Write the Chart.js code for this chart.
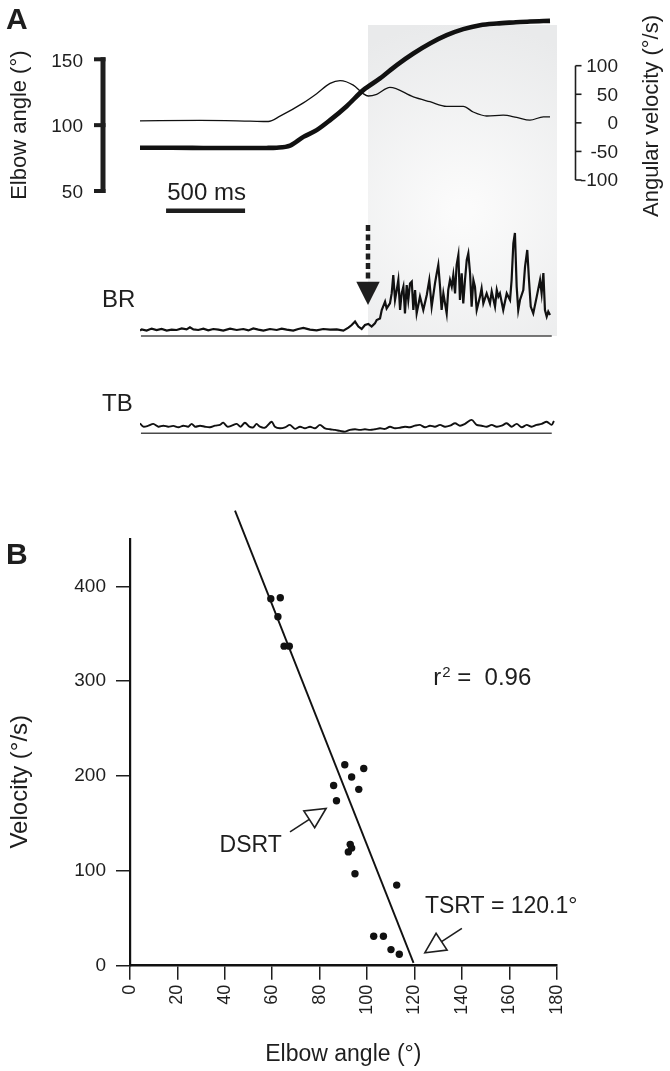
<!DOCTYPE html>
<html><head><meta charset="utf-8">
<script src="https://cdn.jsdelivr.net/npm/chart.js@4.4.1/dist/chart.umd.min.js"></script>
<style>
html,body{margin:0;padding:0;background:#fff;}
#wrap{position:relative;width:670px;height:1071px;overflow:hidden;background:#fff;}
#cA{position:absolute;left:0;top:0;}
#cB{position:absolute;left:0;top:470px;}
</style></head><body>
<div id="wrap">
<canvas id="cA" width="670" height="470"></canvas>
<canvas id="cB" width="670" height="601"></canvas>
</div>
<script>
// ---------------- DATA (panel A) ----------------
const angleTimeMs = [0,200,400,600,800,865,950,1034,1118,1203,1308,1413,1519,1625,1730,1835,1941,2046,2152,2258,2363,2468,2595];
const angleDeg    = [82.8,82.8,82.7,82.6,82.7,82.9,84.5,91.1,96.2,103.8,114.4,126.6,135.5,145.6,154.4,162.0,168.3,172.9,175.9,177.2,178.0,178.7,179.2];

const velTimeMs = [0,380,696,812,886,1034,1118,1203,1266,1350,1413,1445,1498,1582,1730,1835,1941,2046,2109,2194,2299,2384,2468,2553,2595];
const velDegS   = [3.5,4.2,3.0,2.4,11.7,35,51,69,74,66,51,47,50,62,45.5,37,29,29,19,12,13.5,9.4,4.7,10.5,10.5];

const brTimeMs = [0,11,42,74,105,137,169,200,232,264,295,316,338,369,401,432,464,496,527,570,612,654,686,717,749,781,823,865,897,928,970,1002,1034,1076,1118,1160,1203,1245,1287,1319,1340,1361,1382,1403,1424,1445,1466,1487,
 1498,1519,1530,1551,1561,1582,1593,1603,1614,1625,1635,1646,1656,1667,1677,1688,1698,1709,1720,1730,1741,1751,1772,1793,1815,1831,1846,1867,1878,1888,1899,1909,1920,1941,1951,1962,1973,1983,1994,2004,2015,2025,2036,2046,2057,2068,2078,2089,2099,2110,2120,2131,2152,2162,2173,2194,2215,2226,2247,2258,2268,2278,2299,2321,2342,2352,2363,2373,2384,2394,2405,2426,2437,2451,2462,2473,2489,2511,2532,2542,2553,2563,2574,2584,2595];
const brUv = [27,33,27,37,30,35,27,32,30,38,33,43,33,30,37,28,35,32,27,37,30,35,28,38,32,27,35,30,37,32,27,35,40,32,28,35,32,33,27,42,55,72,47,35,55,60,47,63,
 80,88,130,172,138,163,213,305,180,230,280,130,213,247,113,255,180,263,272,130,230,113,197,130,205,280,147,263,313,355,247,130,213,113,230,280,247,305,213,355,405,180,313,163,280,380,413,313,147,280,247,130,197,238,163,213,163,222,147,230,197,213,130,213,180,280,463,515,247,130,180,230,347,430,280,147,113,197,280,213,315,130,97,122,105];

const tbTimeMs = [0,21,53,84,116,148,179,211,243,274,306,327,348,380,411,443,475,506,527,553,580,612,637,664,692,717,738,759,791,833,854,886,918,949,981,1013,1044,1076,1108,1139,1171,1203,1234,1266,1297,1329,1361,1392,1424,1456,1487,1519,1551,1582,1614,1646,1677,1709,1740,1772,1804,1835,1867,1899,1930,1962,1994,2025,2057,2099,2131,2162,2194,2226,2257,2289,2321,2352,2384,2416,2447,2479,2510,2542,2574,2605,2620];
const tbUv = [50,33,38,47,33,38,33,37,30,38,33,47,33,38,33,30,38,42,53,33,38,47,33,53,33,30,47,33,28,58,33,25,30,42,22,33,25,33,25,42,25,20,17,12,8,17,20,17,20,17,20,25,22,33,25,28,33,30,38,42,30,38,33,42,33,38,50,38,47,67,42,38,33,42,33,38,50,33,47,30,42,33,42,47,58,42,62];

const onsetMs = 1443;            // start of shaded region / arrow
const scaleBarMs = [165, 665];   // 500 ms bar
const angleTicks = [150, 100, 50];
const velTicks = [100, 50, 0, -50, -100];

// ---------------- DATA (panel B) ----------------
const scatterAngle = [59.4,63.4,62.4,65.0,67.2,90.6,98.6,93.5,85.9,96.5,87.1,92.9,92.1,93.5,94.9,112.5,102.8,106.9,110.1,113.6];
const scatterVel   = [387,388,368,337,337,212,208,199,190,186,174,128,120,124,97,85,31,31,17,12];
const fitAngle = [44.3, 119.6];
const fitVel   = [480, 3];
const xTickStep = 20, yTickStep = 100;

// ---------------- STYLE / LAYOUT ----------------
const FONT = '"Liberation Sans", Arial, Helvetica, sans-serif';
const INK = '#1e1e1e';
Chart.defaults.font.family = FONT;
Chart.defaults.color = INK;

// panel A calibration (page px)
const A = {left:140, right:556, top:0, bottom:470, pxPerMs:79/500};
function rangeFor(v1,p1,v2,p2){ const k=(p2-p1)/(v2-v1); return {min:v1+(A.bottom-p1)/k, max:v1+(A.top-p1)/k}; }
const angR = rangeFor(150,59.3,50,191);
const velR = rangeFor(100,65.7,-100,180);
const brR  = rangeFor(0,336,500,236);
const tbR  = rangeFor(0,433.3,500,333.3);
const xMaxMs = (A.right-A.left)/A.pxPerMs;

function pts(xs,ys){ return xs.map((x,i)=>({x:x,y:ys[i]})); }

function hollowArrow(ctx,tx,ty,hx,hy,headLen,headHalf){
  const ang=Math.atan2(hy-ty,hx-tx);
  const bx=hx-headLen*Math.cos(ang), by=hy-headLen*Math.sin(ang);
  ctx.beginPath(); ctx.moveTo(tx,ty); ctx.lineTo(bx,by); ctx.stroke();
  const px=-Math.sin(ang)*headHalf, py=Math.cos(ang)*headHalf;
  ctx.beginPath(); ctx.moveTo(hx,hy); ctx.lineTo(bx+px,by+py); ctx.lineTo(bx-px,by-py); ctx.closePath();
  ctx.fillStyle='#fff'; ctx.fill(); ctx.stroke();
}

const decoA = {
  id:'decoA',
  beforeDatasetsDraw(chart){
    const ctx=chart.ctx, xs=chart.scales.x, yb=chart.scales.yBR;
    const x0=xs.getPixelForValue(onsetMs), x1=chart.chartArea.right+1;
    const y0=25, y1=yb.getPixelForValue(0);
    const cx=(x0+x1)/2, cy=(y0+y1)/2+30;
    const g=ctx.createRadialGradient(cx,cy,10,cx,cy,190);
    g.addColorStop(0,'#fbfbfb'); g.addColorStop(1,'#e9eaeb');
    ctx.save(); ctx.fillStyle=g; ctx.fillRect(x0,y0,x1-x0,y1-y0); ctx.restore();
  },
  afterDatasetsDraw(chart){
    const ctx=chart.ctx, xs=chart.scales.x, ya=chart.scales.yAng, yv=chart.scales.yVel, yb=chart.scales.yBR, yt=chart.scales.yTB;
    ctx.save();
    ctx.fillStyle=INK; ctx.strokeStyle=INK;
    // panel letter
    ctx.font='bold 30px '+FONT; ctx.textAlign='left'; ctx.textBaseline='alphabetic';
    ctx.fillText('A',6,29);
    // elbow angle bracket
    const bx=103;
    ctx.lineWidth=5; ctx.lineCap='butt';
    ctx.beginPath(); ctx.moveTo(bx,ya.getPixelForValue(150)-2); ctx.lineTo(bx,ya.getPixelForValue(50)+2); ctx.stroke();
    ctx.lineWidth=4;
    ctx.font='19px '+FONT; ctx.textAlign='right'; ctx.textBaseline='middle';
    angleTicks.forEach(v=>{ const y=ya.getPixelForValue(v);
      ctx.beginPath(); ctx.moveTo(bx+2.5,y); ctx.lineTo(bx-9,y); ctx.stroke();
      ctx.fillText(String(v),83,y+2); });
    ctx.save(); ctx.translate(20,ya.getPixelForValue(100)); ctx.rotate(-Math.PI/2);
    ctx.textAlign='center'; ctx.textBaseline='middle'; ctx.font='22px '+FONT;
    ctx.fillText('Elbow angle (°)',0,0); ctx.restore();
    // angular velocity bracket
    const vx=575.5;
    ctx.lineWidth=1.6;
    ctx.beginPath(); ctx.moveTo(vx,yv.getPixelForValue(100)); ctx.lineTo(vx,yv.getPixelForValue(-100)); ctx.stroke();
    ctx.font='19px '+FONT; ctx.textAlign='right'; ctx.textBaseline='middle';
    velTicks.forEach(v=>{ const y=yv.getPixelForValue(v);
      ctx.beginPath(); ctx.moveTo(vx,y); ctx.lineTo(vx+6,y); ctx.stroke();
      ctx.fillText(String(v),618,y+1); });
    ctx.save(); ctx.translate(652,116); ctx.rotate(-Math.PI/2);
    ctx.textAlign='center'; ctx.textBaseline='middle'; ctx.font='22px '+FONT;
    ctx.fillText('Angular velocity (°/s)',0,0); ctx.restore();
    // 500 ms scale bar
    const sx0=xs.getPixelForValue(scaleBarMs[0]), sx1=xs.getPixelForValue(scaleBarMs[1]);
    ctx.lineWidth=4.5;
    ctx.beginPath(); ctx.moveTo(sx0,210.7); ctx.lineTo(sx1,210.7); ctx.stroke();
    ctx.font='24px '+FONT; ctx.textAlign='center'; ctx.textBaseline='middle';
    ctx.fillText('500 ms',(sx0+sx1)/2+1,193);
    // EMG baselines
    ctx.strokeStyle='#4a4a4a'; ctx.lineWidth=1.4;
    const ux0=xs.getPixelForValue(6), ux1=xs.getPixelForValue(2606);
    [yb,yt].forEach(s=>{ const y=s.getPixelForValue(0);
      ctx.beginPath(); ctx.moveTo(ux0,y); ctx.lineTo(ux1,y); ctx.stroke(); });
    ctx.fillStyle=INK; ctx.strokeStyle=INK;
    ctx.font='24px '+FONT; ctx.textAlign='left'; ctx.textBaseline='middle';
    ctx.fillText('BR',102,300);
    ctx.fillText('TB',102,404);
    // dashed arrow at onset
    const ax=xs.getPixelForValue(onsetMs);
    ctx.lineWidth=4.5; ctx.setLineDash([6,3.5]);
    ctx.beginPath(); ctx.moveTo(ax,225); ctx.lineTo(ax,281); ctx.stroke();
    ctx.setLineDash([]);
    ctx.beginPath(); ctx.moveTo(ax-11.7,281.7); ctx.lineTo(ax+11.7,281.7); ctx.lineTo(ax,305); ctx.closePath(); ctx.fill();
    ctx.restore();
  }
};

new Chart(document.getElementById('cA'),{
  type:'line',
  data:{datasets:[
    {data:pts(brTimeMs,brUv), yAxisID:'yBR', borderColor:'#111', borderWidth:2.2, pointRadius:0, tension:0},
    {data:pts(tbTimeMs,tbUv), yAxisID:'yTB', borderColor:'#111', borderWidth:1.9, pointRadius:0, tension:0.3},
    {data:pts(velTimeMs,velDegS), yAxisID:'yVel', borderColor:'#111', borderWidth:1.3, pointRadius:0, cubicInterpolationMode:'monotone'},
    {data:pts(angleTimeMs,angleDeg), yAxisID:'yAng', borderColor:'#111', borderWidth:4.6, pointRadius:0, cubicInterpolationMode:'monotone'}
  ]},
  options:{
    responsive:false, animation:false, devicePixelRatio:1,
    layout:{padding:{left:A.left, right:670-A.right, top:A.top, bottom:470-A.bottom}},
    plugins:{legend:{display:false}, tooltip:{enabled:false}},
    scales:{
      x:{type:'linear', display:false, min:0, max:xMaxMs},
      yAng:{type:'linear', display:false, min:angR.min, max:angR.max},
      yVel:{type:'linear', display:false, min:velR.min, max:velR.max},
      yBR:{type:'linear', display:false, min:brR.min, max:brR.max},
      yTB:{type:'linear', display:false, min:tbR.min, max:tbR.max}
    }
  },
  plugins:[decoA]
});

// ---------------- PANEL B ----------------
const decoB = {
  id:'decoB',
  afterDatasetsDraw(chart){
    const ctx=chart.ctx, xs=chart.scales.x, ys=chart.scales.y;
    const P=(a,v)=>[xs.getPixelForValue(a), ys.getPixelForValue(v)];
    ctx.save();
    ctx.fillStyle=INK; ctx.strokeStyle=INK;
    ctx.font='bold 30px '+FONT; ctx.textAlign='left'; ctx.textBaseline='alphabetic';
    ctx.fillText('B',6,94);
    // y axis title
    ctx.save(); ctx.translate(20, ys.getPixelForValue(194)); ctx.rotate(-Math.PI/2);
    ctx.textAlign='center'; ctx.textBaseline='middle'; ctx.font='24px '+FONT;
    ctx.fillText('Velocity (°/s)',0,0); ctx.restore();
    // r^2
    ctx.font='24px '+FONT; ctx.textAlign='left'; ctx.textBaseline='alphabetic';
    let [rx,ry]=P(127.9,295.7);
    ctx.fillText('r',rx,ry); rx+=ctx.measureText('r').width+1;
    ctx.font='15px '+FONT; ctx.fillText('2',rx,ry-8); rx+=ctx.measureText('2').width;
    ctx.font='24px '+FONT; ctx.fillText(' =  0.96',rx,ry);
    // DSRT
    ctx.font='23px '+FONT;
    let [dx,dy]=P(64.0,119.5);
    ctx.textAlign='right'; ctx.fillText('DSRT',dx,dy);
    ctx.textAlign='left';
    let [tx,ty]=P(124.4,55.2);
    ctx.fillText('TSRT = 120.1°',tx,ty);
    ctx.lineWidth=1.6; ctx.lineJoin='miter';
    let [a1,b1]=P(67.5,141.2), [a2,b2]=P(82.7,165.8);
    hollowArrow(ctx,a1,b1,a2,b2,20,10);
    let [c1,d1]=P(140.0,39.4), [c2,d2]=P(124.4,13.7);
    hollowArrow(ctx,c1,d1,c2,d2,20,10);
    ctx.restore();
  }
};

new Chart(document.getElementById('cB'),{
  type:'scatter',
  data:{datasets:[
    {type:'scatter', data:pts(scatterAngle,scatterVel), pointRadius:3.7, pointBackgroundColor:'#111', pointBorderWidth:0, pointBorderColor:'#111'},
    {type:'line', data:pts(fitAngle,fitVel), borderColor:'#111', borderWidth:1.9, pointRadius:0, clip:false}
  ]},
  options:{
    responsive:false, animation:false, devicePixelRatio:1,
    layout:{padding:{left:0, top:69, right:113.3, bottom:0}},
    plugins:{legend:{display:false}, tooltip:{enabled:false}},
    scales:{
      x:{type:'linear', min:0, max:180,
        ticks:{stepSize:xTickStep, includeBounds:false, minRotation:90, maxRotation:90, autoSkip:false, font:{size:18}, color:INK, padding:5},
        grid:{display:true, drawOnChartArea:false, drawTicks:true, tickLength:14, color:INK, lineWidth:1.5},
        border:{display:true, color:'#111', width:2.6},
        title:{display:true, text:'Elbow angle (°)', font:{size:23}, color:INK, padding:{top:0,bottom:3}},
        afterFit(s){ s.height=105.3; }
      },
      y:{type:'linear', min:0, max:450,
        ticks:{stepSize:yTickStep, includeBounds:false, font:{size:19}, color:INK, padding:10},
        grid:{display:true, drawOnChartArea:false, drawTicks:true, tickLength:14, color:INK, lineWidth:1.5},
        border:{display:true, color:'#111', width:2.2},
        title:{display:false},
        afterFit(s){ s.width=130; }
      }
    }
  },
  plugins:[decoB]
});
</script>
</body></html>
